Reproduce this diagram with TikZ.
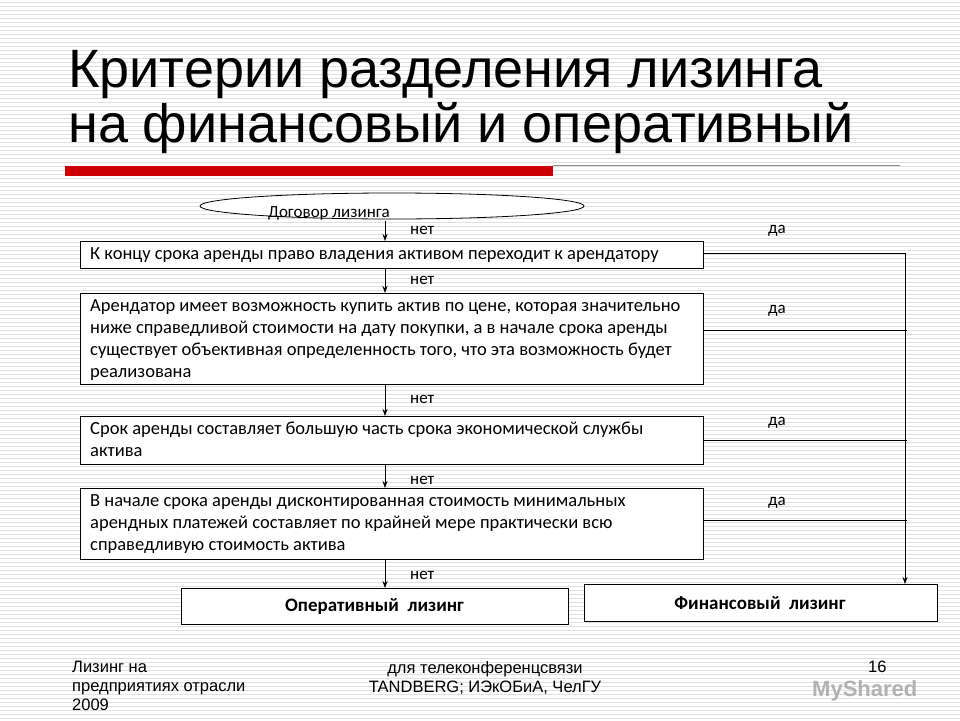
\documentclass[tikz,border=0pt]{standalone}
\usepackage{fontspec}
\setmainfont{Liberation Sans}
\newfontfamily\boxfont{Carlito}
\usetikzlibrary{arrows.meta}
\begin{document}
\begin{tikzpicture}[x=1pt,y=-1pt,
  box/.style={draw=black,fill=white,line width=0.9pt,anchor=north west,inner sep=0pt},
  btxt/.style={anchor=north west,align=left,font=\boxfont\fontsize{18.5}{22}\selectfont,inner sep=0pt},
  lbl/.style={font=\boxfont\fontsize{17}{18}\selectfont,inner sep=0pt},
  arr/.style={-{Stealth[length=7pt,width=5pt]},line width=0.8pt},
  ln/.style={line width=0.8pt},
  foot/.style={font=\fontsize{16.5}{19}\selectfont,inner sep=0pt,align=left}]
\useasboundingbox (0,0) rectangle (960,720);
\fill[white] (0,0) rectangle (960,720);
\foreach \yy in {2,6,...,718} \draw[black!12,line width=0.8pt] (0,\yy) -- (960,\yy);
% title
\node[anchor=west,inner sep=0pt,font=\fontsize{54}{58}\selectfont] (t1) at (68,75) {Критерии разделения лизинга};
\node[anchor=west,inner sep=0pt,font=\fontsize{54}{58}\selectfont] (t2) at (68,128) {на финансовый и оперативный};
\fill[red!80!black] (65,166) rectangle (553,176);
\draw[black!45,line width=0.6pt] (553,165) -- (900,165);
% ellipse
\draw[fill=white,line width=0.8pt] (392,206) ellipse (192 and 13);
\node[lbl,anchor=west] (e) at (268,213) {Договор лизинга};
% boxes
\draw[box] (80,241) rectangle (703,268);
\node[btxt] (b1) at (90,247) {К концу срока аренды право владения активом переходит к арендатору};
\draw[box] (80,293) rectangle (703,384);
\node[btxt] (b2) at (90,299) {Арендатор имеет возможность купить актив по цене, которая значительно\\ниже справедливой стоимости на дату покупки, а в начале срока аренды\\существует объективная определенность того, что эта возможность будет\\реализована};
\draw[box] (80,416) rectangle (703,464);
\node[btxt] (b3) at (90,422) {Срок аренды составляет большую часть срока экономической службы\\актива};
\draw[box] (80,488) rectangle (703,559);
\node[btxt] (b4) at (90,494) {В начале срока аренды дисконтированная стоимость минимальных\\арендных платежей составляет по крайней мере практически всю\\справедливую стоимость актива};
\draw[box] (181,588) rectangle (568,624);
\node[font=\boxfont\bfseries\fontsize{19}{20}\selectfont,inner sep=0pt] (op) at (374.5,606) {Оперативный\ \ лизинг};
\draw[box] (584,584) rectangle (937,621);
\node[font=\boxfont\bfseries\fontsize{19}{20}\selectfont,inner sep=0pt] (fin) at (760,603) {Финансовый\ \ лизинг};
% vertical arrows
\draw[arr] (385,221) -- (385,241);
\draw[arr] (385,268) -- (385,293);
\draw[arr] (385,384) -- (385,416);
\draw[arr] (385,464) -- (385,488);
\draw[arr] (385,559) -- (385,588);
\foreach \yy in {230,280,399,480,575} \node[lbl,anchor=west] at (410,\yy) {нет};
\foreach \yy in {231,311,423,503} \node[lbl,anchor=west] at (768,\yy) {да};
% right side
\draw[ln] (703,253) -- (905,253);
\draw[arr] (905,253) -- (905,584);
\draw[ln] (703,330) -- (907,330);
\draw[ln] (703,440) -- (907,440);
\draw[ln] (703,520) -- (907,520);
% footer
\node[foot,anchor=north west] (f1) at (72,661) {Лизинг на\\предприятиях отрасли\\2009};
\node[foot,anchor=north,align=center] (f2) at (485,661) {для телеконференцсвязи\\TANDBERG; ИЭкОБиА, ЧелГУ};
\node[foot,anchor=north west] (f3) at (868,661) {16};
\node[font=\bfseries\fontsize{22}{24}\selectfont,text=black!30,inner sep=0pt,anchor=west] (wm) at (812,691) {MyShared};
\end{tikzpicture}
\end{document}
